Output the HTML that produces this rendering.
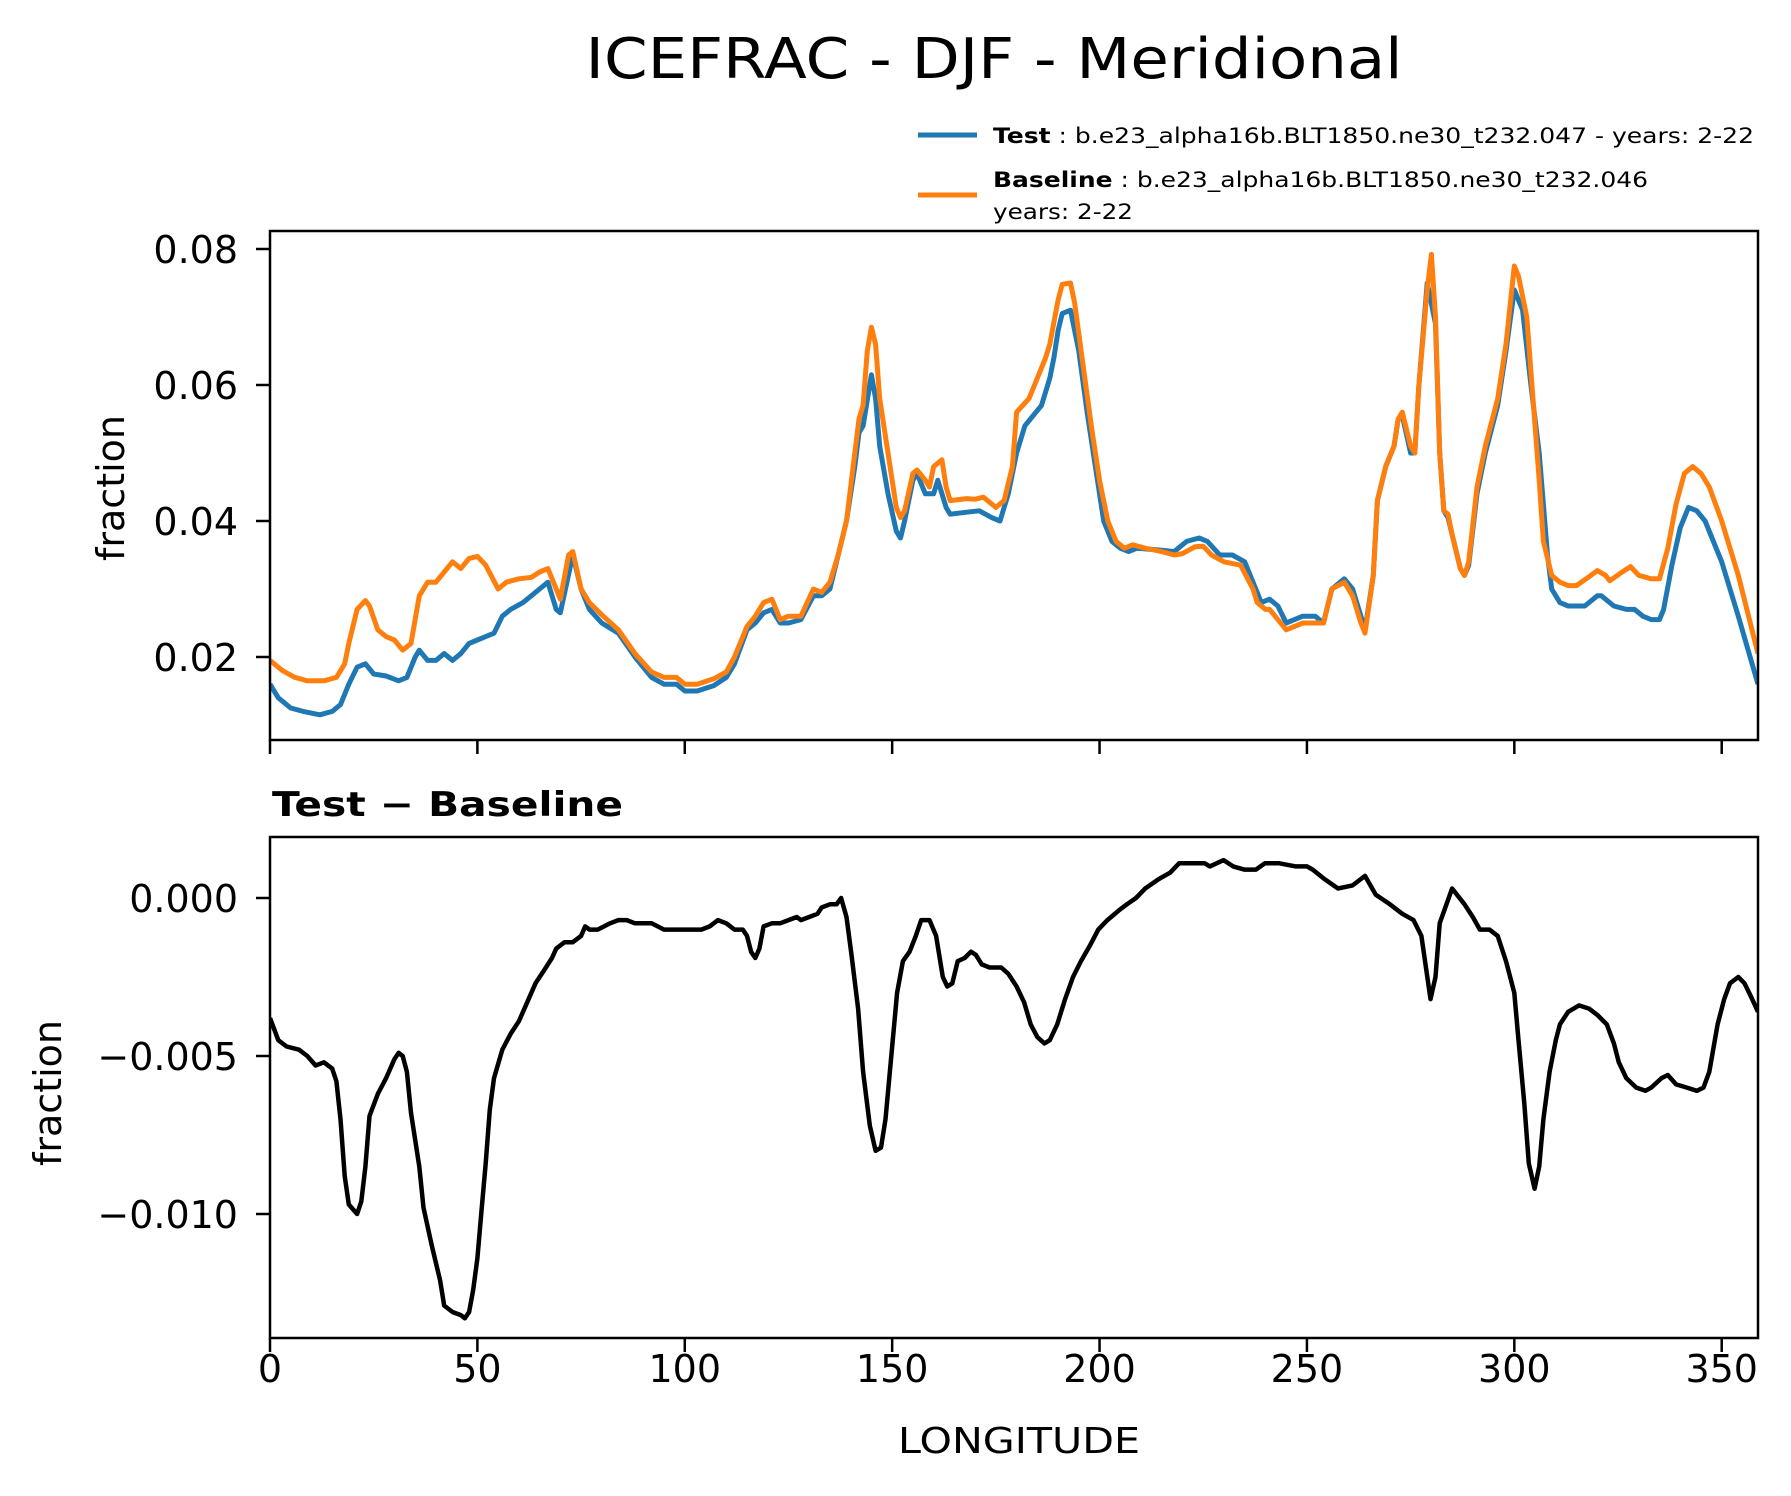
<!DOCTYPE html>
<html><head><meta charset="utf-8"><style>
html,body{margin:0;padding:0;background:#fff}
svg{display:block;font-family:"DejaVu Sans","Liberation Sans",sans-serif}
</style></head><body>
<svg id="chart" width="1791" height="1496" viewBox="0 0 1791 1496" xmlns="http://www.w3.org/2000/svg">
<rect width="1791" height="1496" fill="#fff"/>
<text x="994" y="78" font-size="56" text-anchor="middle" textLength="817" lengthAdjust="spacingAndGlyphs">ICEFRAC - DJF - Meridional</text>
<g>
<line x1="918" y1="135" x2="977" y2="135" stroke="#1f77b4" stroke-width="5"/>
<text x="993" y="143" font-size="21" textLength="761" lengthAdjust="spacingAndGlyphs"><tspan font-weight="bold">Test</tspan> : b.e23_alpha16b.BLT1850.ne30_t232.047 - years: 2-22</text>
<line x1="918" y1="195" x2="977" y2="195" stroke="#ff7f0e" stroke-width="5"/>
<text x="993" y="187" font-size="21" textLength="655" lengthAdjust="spacingAndGlyphs"><tspan font-weight="bold">Baseline</tspan> : b.e23_alpha16b.BLT1850.ne30_t232.046</text>
<text x="993" y="219" font-size="21" textLength="140" lengthAdjust="spacingAndGlyphs">years: 2-22</text>
</g>
<g id="topPanel"></g>
<g id="botPanel"></g>
<text x="272" y="816" font-size="34" font-weight="bold" textLength="351" lengthAdjust="spacingAndGlyphs">Test − Baseline</text>
<text transform="translate(124,488) rotate(-90)" font-size="38" text-anchor="middle">fraction</text>
<text transform="translate(61,1093) rotate(-90)" font-size="38" text-anchor="middle">fraction</text>
<text x="1019" y="1453" font-size="36" text-anchor="middle" textLength="242" lengthAdjust="spacingAndGlyphs">LONGITUDE</text>
</svg>
<script>
const lonTest=[0,2,5,8,12,15,17,19,21,23,25,28,31,33,35,36,38,40,42,44,46,48,50,52,54,56,58,61,63,65,67,69,70,73,75,77,80,84,88,92,95,98,100,103,107,110,112,115,117,119,121,123,125,128,131,133,135,137,139,141,142,143,145,146,147,149,151,152,153,155,156,158,160,161,163,164,168,171,174,176,178,180,182,184,186,188,189,190,191,193,195,197,199,201,203,205,207,209,215,218,221,224,226,229,232,235,237,239,241,243,245,247,249,252,254,256,259,261,263,264,266,267,269,271,272,273,275,276,277,279,281,282,283,284,285,287,288,289,291,293,296,298,300,302,304,306,308,309,311,313,317,320,321,324,327,329,331,333,335,336,338,340,342,344,346,350,354,358.75];
const testVals=[0.016,0.014,0.0125,0.012,0.0115,0.012,0.013,0.016,0.0185,0.019,0.0175,0.0172,0.0165,0.017,0.020,0.021,0.0195,0.0195,0.0205,0.0195,0.0205,0.022,0.0225,0.023,0.0235,0.026,0.027,0.028,0.029,0.030,0.031,0.027,0.0265,0.035,0.030,0.027,0.025,0.0235,0.020,0.017,0.016,0.016,0.015,0.015,0.0158,0.017,0.019,0.024,0.025,0.0265,0.027,0.025,0.025,0.0255,0.029,0.029,0.030,0.035,0.040,0.048,0.053,0.054,0.0615,0.058,0.051,0.044,0.0385,0.0375,0.040,0.046,0.047,0.044,0.044,0.046,0.042,0.041,0.0413,0.0415,0.0405,0.040,0.044,0.050,0.054,0.0555,0.057,0.061,0.064,0.068,0.0705,0.071,0.065,0.056,0.048,0.040,0.037,0.036,0.0355,0.036,0.0357,0.0355,0.037,0.0375,0.037,0.035,0.035,0.034,0.031,0.028,0.0285,0.0275,0.025,0.0255,0.026,0.026,0.025,0.030,0.0315,0.030,0.026,0.024,0.032,0.043,0.048,0.051,0.055,0.0555,0.050,0.050,0.060,0.075,0.069,0.050,0.0415,0.0405,0.038,0.033,0.032,0.0335,0.044,0.050,0.057,0.065,0.074,0.071,0.060,0.050,0.035,0.030,0.028,0.0275,0.0275,0.029,0.029,0.0275,0.027,0.027,0.026,0.0255,0.0255,0.027,0.0335,0.039,0.042,0.0415,0.040,0.034,0.026,0.016];
const lonBase=[0,3,6,9,13,16,18,19,21,23,24,26,28,30,32,34,36,38,40,42,44,46,48,50,52,55,57,60,63,65,67,69,70,72,73,75,77,80,84,88,92,95,98,100,103,107,110,112,115,117,119,121,123,125,128,131,133,135,137,139,141,142,143,144,145,146,147,149,151,152,153,155,156,158,159,160,162,163,164,168,170,172,175,177,179,180,183,185,187,188,190,191,193,194,196,198,200,202,204,206,208,211,215,218,220,223,225,227,230,234,237,238,240,241,243,245,247,249,252,254,256,259,261,263,264,266,267,269,271,272,273,275,276,277,279,280,281,282,283,284,285,287,288,289,291,293,296,298,300,301,303,304,306,307,309,311,313,315,318,320,322,323,326,328,330,333,335,337,339,341,343,345,347,350,354,358.75];
const baseVals=[0.0195,0.018,0.017,0.0165,0.0165,0.017,0.019,0.022,0.027,0.0283,0.0275,0.024,0.023,0.0225,0.021,0.022,0.029,0.031,0.031,0.0325,0.034,0.033,0.0345,0.0348,0.0335,0.030,0.031,0.0315,0.0317,0.0325,0.033,0.030,0.0285,0.035,0.0355,0.030,0.028,0.0262,0.024,0.0205,0.0178,0.017,0.017,0.016,0.016,0.0168,0.0178,0.020,0.0245,0.026,0.028,0.0285,0.0255,0.026,0.026,0.030,0.0295,0.031,0.035,0.040,0.050,0.055,0.057,0.065,0.0685,0.066,0.058,0.050,0.042,0.0405,0.0415,0.047,0.0475,0.046,0.045,0.048,0.049,0.045,0.043,0.0433,0.0432,0.0435,0.042,0.043,0.048,0.056,0.058,0.061,0.064,0.066,0.0725,0.0748,0.075,0.072,0.063,0.054,0.046,0.040,0.037,0.036,0.0365,0.036,0.0355,0.035,0.0352,0.0362,0.0363,0.035,0.034,0.0335,0.030,0.028,0.027,0.027,0.0255,0.024,0.0245,0.025,0.025,0.025,0.030,0.031,0.029,0.025,0.0235,0.032,0.043,0.048,0.051,0.055,0.056,0.051,0.050,0.060,0.074,0.0792,0.070,0.050,0.0415,0.041,0.038,0.033,0.032,0.034,0.045,0.051,0.058,0.066,0.0775,0.076,0.070,0.062,0.046,0.037,0.032,0.031,0.0305,0.0305,0.0318,0.0327,0.032,0.0312,0.0325,0.0333,0.032,0.0315,0.0315,0.036,0.0425,0.047,0.048,0.047,0.045,0.040,0.032,0.0205];
const lonDiff=[0,2,4,7,9,11,13,15,16,17,18,19,21,22,23,24,26,28,30,31,32,33,34,36,37,39,41,42,44,46,47,48,49,50,51,52,53,54,56,58,60,62,64,66,68,69,71,73,75,76,77,79,82,84,86,88,92,95,100,104,106,108,110,112,114,115,116,117,118,119,121,123,125,127,128,130,132,133,135,136.6,137.7,139,140.2,141.8,143,144.6,146,147.3,148.4,149.8,151.2,152.6,154.2,155.7,157,159,160.6,162.2,163.3,164.5,165.8,167.5,169,170.2,171.6,173.5,176.3,178,180,181.8,183.4,185,186.7,188,189.8,191.7,193.6,195.5,197.7,199.7,201.9,204.6,206.6,208.8,211,214.3,217,219.2,222.5,225.3,226.6,229.9,232.2,234.9,237.7,239.9,243.2,247.3,250,251.4,254.2,257.5,261,264,266.6,270,273,275.7,277.6,279.8,281,282,285,288,290,291.7,294,296,298,300,301,302.4,303.5,304.9,306,307,308.5,310,311,313,315.6,318,320,322.3,324,325.2,327,329.4,331.6,333,335.5,337,339,341.6,344,345.6,347,349,350.6,352,354,355.5,357,358.75];
const diffVals=[-0.0038,-0.0045,-0.0047,-0.0048,-0.005,-0.0053,-0.0052,-0.0054,-0.0058,-0.007,-0.0088,-0.0097,-0.01,-0.0096,-0.0085,-0.0069,-0.0062,-0.0057,-0.0051,-0.0049,-0.005,-0.0055,-0.0068,-0.0085,-0.0098,-0.011,-0.0121,-0.0129,-0.0131,-0.0132,-0.0133,-0.0131,-0.0124,-0.0114,-0.0099,-0.0084,-0.0067,-0.0057,-0.0048,-0.0043,-0.0039,-0.0033,-0.0027,-0.0023,-0.0019,-0.0016,-0.0014,-0.0014,-0.0012,-0.0009,-0.001,-0.001,-0.0008,-0.0007,-0.0007,-0.0008,-0.0008,-0.001,-0.001,-0.001,-0.0009,-0.0007,-0.0008,-0.001,-0.001,-0.0012,-0.0017,-0.0019,-0.0016,-0.0009,-0.0008,-0.0008,-0.0007,-0.0006,-0.0007,-0.0006,-0.0005,-0.0003,-0.0002,-0.0002,0.0,-0.0006,-0.0018,-0.0035,-0.0055,-0.0072,-0.008,-0.0079,-0.007,-0.005,-0.003,-0.002,-0.0017,-0.0012,-0.0007,-0.0007,-0.0012,-0.0025,-0.0028,-0.0027,-0.002,-0.0019,-0.0017,-0.0018,-0.0021,-0.0022,-0.0022,-0.0024,-0.0028,-0.0033,-0.004,-0.0044,-0.0046,-0.0045,-0.004,-0.0032,-0.0025,-0.002,-0.0015,-0.001,-0.0007,-0.0004,-0.0002,0.0,0.0003,0.0006,0.0008,0.0011,0.0011,0.0011,0.001,0.0012,0.001,0.0009,0.0009,0.0011,0.0011,0.001,0.001,0.0009,0.0006,0.0003,0.0004,0.0007,0.0001,-0.0002,-0.0005,-0.0007,-0.0012,-0.0032,-0.0025,-0.0008,0.0003,-0.0002,-0.0006,-0.001,-0.001,-0.0012,-0.002,-0.003,-0.0045,-0.0065,-0.0084,-0.0092,-0.0085,-0.007,-0.0055,-0.0045,-0.004,-0.0036,-0.0034,-0.0035,-0.0037,-0.004,-0.0046,-0.0052,-0.0057,-0.006,-0.0061,-0.006,-0.0057,-0.0056,-0.0059,-0.006,-0.0061,-0.006,-0.0055,-0.004,-0.0032,-0.0027,-0.0025,-0.0027,-0.0031,-0.0036];
const xTicks=[0,50,100,150,200,250,300,350];
const xTickLabels=["0","50","100","150","200","250","300","350"];
const topYTicks=[0.02,0.04,0.06,0.08];
const topYTickLabels=["0.02","0.04","0.06","0.08"];
const botYTicks=[0,-0.005,-0.01];
const botYTickLabels=["0.000","\u22120.005","\u22120.010"];

const NS="http://www.w3.org/2000/svg";
const L=270,R=1758,XMAX=358.75;
const TT=231,TB=740,BT=837,BB=1338;
function xs(v){return L+v*(R-L)/XMAX;}
function yTop(v){return 249+(0.08-v)*6800;}
function yBot(v){return 898-v*31600;}
function mk(tag,attrs,parent){const e=document.createElementNS(NS,tag);for(const k in attrs)e.setAttribute(k,attrs[k]);parent.appendChild(e);return e;}
function path(xsA,ysA,yf){let d="";for(let i=0;i<xsA.length;i++){d+=(i?"L":"M")+xs(xsA[i]).toFixed(1)+","+yf(ysA[i]).toFixed(1);}return d;}
const topG=document.getElementById('topPanel'),botG=document.getElementById('botPanel');
const defs=mk('defs',{},document.getElementById('chart'));
const c1=mk('clipPath',{id:'ct'},defs);mk('rect',{x:L,y:TT,width:R-L,height:TB-TT},c1);
const c2=mk('clipPath',{id:'cb'},defs);mk('rect',{x:L,y:BT,width:R-L,height:BB-BT},c2);

const pt=mk('path',{d:path(lonTest,testVals,yTop),fill:'none',stroke:'#1f77b4','stroke-width':5,'stroke-linejoin':'round','clip-path':'url(#ct)'},topG);


const pb=mk('path',{d:path(lonBase,baseVals,yTop),fill:'none',stroke:'#ff7f0e','stroke-width':5,'stroke-linejoin':'round','clip-path':'url(#ct)'},topG);


const pd=mk('path',{d:path(lonDiff,diffVals,yBot),fill:'none',stroke:'#000','stroke-width':4.5,'stroke-linejoin':'round','clip-path':'url(#cb)'},botG);



const f1=mk('rect',{x:L,y:TT,width:R-L,height:TB-TT,fill:'none',stroke:'#000','stroke-width':2.5},topG);


const f2=mk('rect',{x:L,y:BT,width:R-L,height:BB-BT,fill:'none',stroke:'#000','stroke-width':2.5},botG);



xTicks.forEach((t,i)=>{
  const x=xs(t);
  const a=mk('line',{x1:x,y1:TB,x2:x,y2:TB+14,stroke:'#000','stroke-width':2.5},topG);
  
  
  const b=mk('line',{x1:x,y1:BB,x2:x,y2:BB+14,stroke:'#000','stroke-width':2.5},botG);
  
  
  const tx=mk('text',{x:x,y:1382,'font-size':38,'text-anchor':'middle'},botG);
  tx.textContent=xTickLabels[i];
  
  
});
topYTicks.forEach((t,i)=>{
  const y=yTop(t);
  const a=mk('line',{x1:L-14,y1:y,x2:L,y2:y,stroke:'#000','stroke-width':2.5},topG);
  
  
  const tx=mk('text',{x:238,y:y+14,'font-size':38,'text-anchor':'end'},topG);
  tx.textContent=topYTickLabels[i];
  
  
});
botYTicks.forEach((t,i)=>{
  const y=yBot(t);
  const a=mk('line',{x1:L-14,y1:y,x2:L,y2:y,stroke:'#000','stroke-width':2.5},botG);
  
  
  const tx=mk('text',{x:238,y:y+14,'font-size':38,'text-anchor':'end'},botG);
  tx.textContent=botYTickLabels[i];
  
  
});
</script>
</body></html>
